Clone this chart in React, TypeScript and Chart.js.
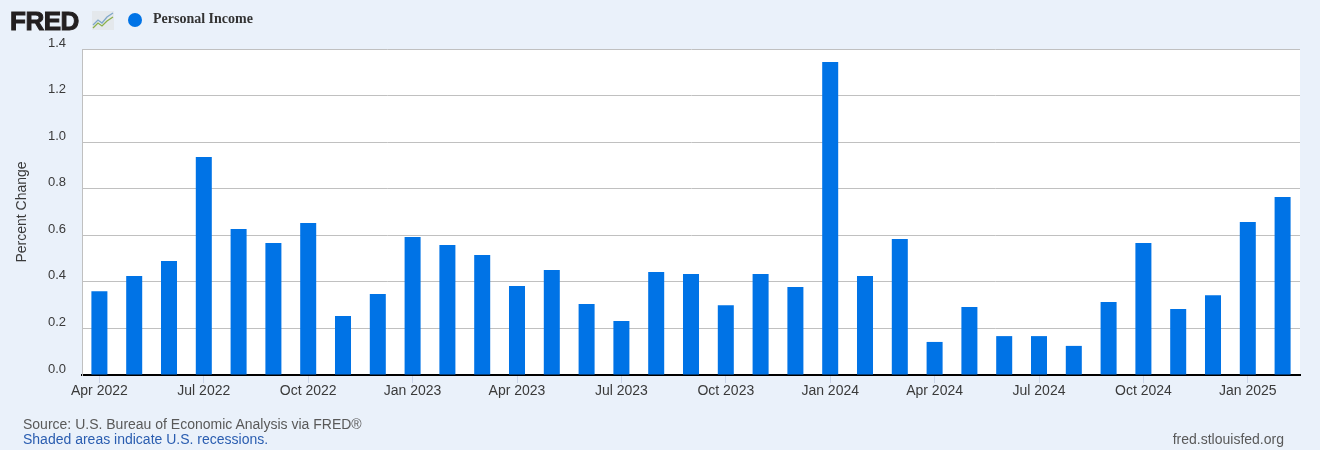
import React, { useEffect, useRef } from "react";
import { Chart, registerables } from "chart.js";

Chart.register(...registerables);

const months: string[] = [
  "Apr 2022", "May 2022", "Jun 2022", "Jul 2022", "Aug 2022", "Sep 2022", "Oct 2022", "Nov 2022", "Dec 2022",
  "Jan 2023", "Feb 2023", "Mar 2023", "Apr 2023", "May 2023", "Jun 2023", "Jul 2023", "Aug 2023", "Sep 2023",
  "Oct 2023", "Nov 2023", "Dec 2023", "Jan 2024", "Feb 2024", "Mar 2024", "Apr 2024", "May 2024", "Jun 2024",
  "Jul 2024", "Aug 2024", "Sep 2024", "Oct 2024", "Nov 2024", "Dec 2024", "Jan 2025", "Feb 2025",
];

const personalIncome: number[] = [
  0.36, 0.425, 0.49, 0.936, 0.627, 0.567, 0.653, 0.253, 0.348,
  0.593, 0.558, 0.515, 0.382, 0.451, 0.305, 0.232, 0.442, 0.434,
  0.3, 0.434, 0.378, 1.344, 0.425, 0.584, 0.142, 0.292, 0.167,
  0.167, 0.125, 0.313, 0.567, 0.283, 0.343, 0.657, 0.764,
];

const tickLabels: string[] = [
  "Apr 2022", "Jul 2022", "Oct 2022", "Jan 2023", "Apr 2023", "Jul 2023", "Oct 2023",
  "Jan 2024", "Apr 2024", "Jul 2024", "Oct 2024", "Jan 2025",
];

const FONT = "'Liberation Sans', Arial, sans-serif";

const plotBg = {
  id: "plotBg",
  beforeDraw(chart: any) {
    const { ctx, chartArea } = chart;
    ctx.save();
    ctx.fillStyle = "#ffffff";
    ctx.fillRect(chartArea.left, chartArea.top, chartArea.right - chartArea.left, chartArea.bottom - chartArea.top);
    ctx.restore();
  },
};

export default function App() {
  const ref = useRef<HTMLCanvasElement>(null);
  useEffect(() => {
    document.body.style.margin = "0";
    const chart = new Chart(ref.current!, {
      type: "bar",
      data: {
        labels: months,
        datasets: [
          {
            label: "Personal Income",
            data: personalIncome,
            backgroundColor: "#0073e6",
            borderWidth: 0,
            categoryPercentage: 1,
            barPercentage: 0.46,
          },
        ],
      },
      options: {
        animation: false,
        responsive: false,
        maintainAspectRatio: false,
        layout: { padding: { top: 49, right: 20, left: 0, bottom: 0 } },
        plugins: { legend: { display: false }, tooltip: { enabled: false } },
        scales: {
          x: {
            afterFit: (s: any) => { s.height = 75; },
            grid: {
              offset: false,
              drawOnChartArea: false,
              drawTicks: true,
              tickLength: 8,
              tickColor: (c: any) => (tickLabels.includes(months[c.index]) ? "#ccd6eb" : "rgba(0,0,0,0)"),
            },
            border: { color: "#000000", width: 2 },
            ticks: {
              autoSkip: false,
              maxRotation: 0,
              padding: 0,
              color: "#3a3a3a",
              font: { family: FONT, size: 14 },
              callback: (_v: any, i: number) => (tickLabels.includes(months[i]) ? months[i] : ""),
            },
          },
          y: {
            min: 0,
            max: 1.4,
            afterFit: (s: any) => { s.width = 82; },
            grid: { color: "#c0c0c0", lineWidth: 1, drawTicks: false },
            border: { color: "#c0c0c0", width: 1 },
            title: {
              display: true,
              text: "Percent Change",
              color: "#3a3a3a",
              font: { family: FONT, size: 14 },
              padding: { top: 14, bottom: 0 },
            },
            ticks: {
              stepSize: 0.2,
              padding: 16,
              labelOffset: -6,
              color: "#3a3a3a",
              font: { family: FONT, size: 13 },
              callback: (v: any) => Number(v).toFixed(1),
            },
          },
        },
      },
      plugins: [plotBg],
    });
    return () => chart.destroy();
  }, []);

  return (
    <div style={{ position: "absolute", left: 0, top: 0, width: 1320, height: 450, background: "#eaf1fa", overflow: "hidden" }}>
      <canvas ref={ref} width={1320} height={450} style={{ position: "absolute", left: 0, top: 0 }} />
      <div style={{ position: "absolute", left: 10, top: 6, fontFamily: FONT, fontWeight: 900, fontSize: 26, color: "#231f20", letterSpacing: -0.5, WebkitTextStroke: "1px #231f20" } as any}>
        FRED
      </div>
      <svg style={{ position: "absolute", left: 92, top: 11 }} width={22} height={19} viewBox="0 0 22 19">
        <rect x="0" y="0" width="22" height="19" fill="#e4e8ec" />
        <polyline points="1,14 6,9 10,12 15,6 21,2" fill="none" stroke="#7fa7c9" strokeWidth="1.3" />
        <polyline points="1,17 6,12 10,15 15,10 21,6" fill="none" stroke="#8bb04a" strokeWidth="1.3" />
      </svg>
      <div style={{ position: "absolute", left: 128, top: 13, width: 14, height: 14, borderRadius: 7, background: "#0073e6" }} />
      <div style={{ position: "absolute", left: 153, top: 11, fontFamily: "'Liberation Serif', 'DejaVu Serif', serif", fontWeight: 700, fontSize: 14, color: "#333333" }}>
        Personal Income
      </div>
      <div style={{ position: "absolute", left: 23, top: 416, fontFamily: FONT, fontSize: 14, color: "#595959" }}>
        Source: U.S. Bureau of Economic Analysis via FRED®
      </div>
      <div style={{ position: "absolute", left: 23, top: 431, fontFamily: FONT, fontSize: 14, color: "#2a5db0" }}>
        Shaded areas indicate U.S. recessions.
      </div>
      <div style={{ position: "absolute", right: 36, top: 431, fontFamily: FONT, fontSize: 14, color: "#595959" }}>
        fred.stlouisfed.org
      </div>
    </div>
  );
}
